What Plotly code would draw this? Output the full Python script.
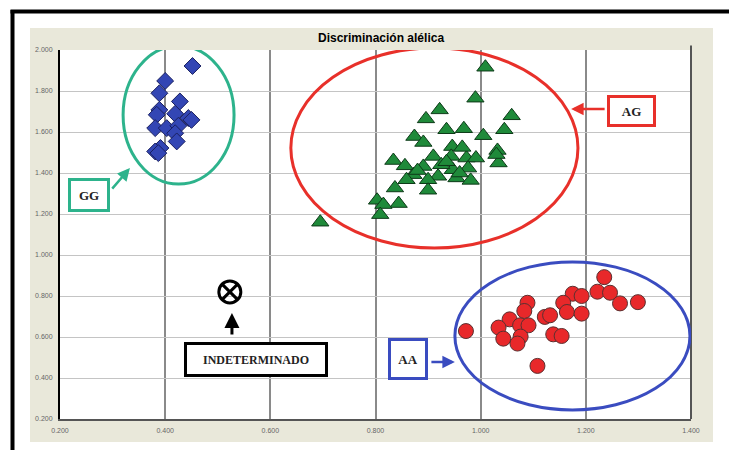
import plotly.graph_objects as go

# ---- data ----
gg_x = [0.452, 0.400, 0.389, 0.428, 0.389, 0.384, 0.419, 0.444, 0.450, 0.381, 0.403, 0.425, 0.419, 0.422, 0.391, 0.381, 0.387]
gg_y = [1.922, 1.849, 1.789, 1.749, 1.708, 1.684, 1.689, 1.668, 1.659, 1.619, 1.619, 1.630, 1.594, 1.554, 1.522, 1.505, 1.497]

ag_x = [1.009, 0.990, 0.922, 0.896, 1.059, 0.935, 0.968, 1.045, 0.874, 0.891, 1.005, 0.946, 1.032, 1.034,
        0.834, 0.856, 0.910, 0.944, 0.973, 0.991, 0.891, 0.872, 0.919, 0.947, 0.976, 0.859, 0.900, 0.954,
        0.981, 0.837, 0.900, 0.803, 0.844, 0.815, 0.809, 0.695, 0.880, 0.925, 0.960, 0.965, 1.030, 0.935]
ag_y = [1.916, 1.765, 1.708, 1.664, 1.679, 1.611, 1.616, 1.611, 1.578, 1.549, 1.582, 1.529, 1.510, 1.449,
        1.461, 1.435, 1.481, 1.481, 1.473, 1.473, 1.432, 1.392, 1.384, 1.416, 1.424, 1.367, 1.367, 1.376,
        1.364, 1.327, 1.316, 1.267, 1.251, 1.246, 1.197, 1.160, 1.412, 1.440, 1.400, 1.525, 1.490, 1.455]

aa_x = [1.235, 1.222, 1.246, 1.175, 1.192, 1.265, 1.299, 1.089, 1.157, 1.083, 1.164, 1.192, 1.122, 1.132,
        1.055, 1.075, 1.091, 1.034, 0.972, 1.138, 1.154, 1.043, 1.076, 1.070, 1.108]
aa_y = [0.892, 0.821, 0.816, 0.811, 0.800, 0.764, 0.770, 0.767, 0.767, 0.727, 0.722, 0.714, 0.698, 0.706,
        0.686, 0.657, 0.657, 0.646, 0.629, 0.613, 0.605, 0.592, 0.602, 0.568, 0.459]

und_x = [0.523]
und_y = [0.820]

x_ticks = [0.2, 0.4, 0.6, 0.8, 1.0, 1.2, 1.4]
y_ticks = [0.2, 0.4, 0.6, 0.8, 1.0, 1.2, 1.4, 1.6, 1.8, 2.0]
title_text = "Discriminación alélica"

# ---- figure ----
L, R, T, B = 60, 38, 50, 31
PW, PH = 729 - L - R, 450 - T - B


def px(xp):
    return (xp - L) / PW


def py(yp):
    return (450 - B - yp) / PH


fig = go.Figure()
fig.add_trace(go.Scatter(x=gg_x, y=gg_y, mode="markers", name="GG",
                         marker=dict(symbol="diamond", size=13, color="#3346b4",
                                     line=dict(color="#1a2060", width=1))))
fig.add_trace(go.Scatter(x=ag_x, y=ag_y, mode="markers", name="AG",
                         marker=dict(symbol="triangle-up", size=15, color="#1f8a3a",
                                     line=dict(color="#0d3a18", width=1))))
fig.add_trace(go.Scatter(x=aa_x, y=aa_y, mode="markers", name="AA",
                         marker=dict(symbol="circle", size=15, color="#e8282a",
                                     line=dict(color="#5a3030", width=1))))
fig.add_trace(go.Scatter(x=und_x, y=und_y, mode="markers", name="Indeterminado",
                         marker=dict(symbol="circle-x-open", size=22, color="black",
                                     line=dict(color="black", width=3))))

shapes = [
    # beige panel
    dict(type="rect", xref="paper", yref="paper", x0=px(30), x1=px(713), y0=py(442), y1=py(28),
         fillcolor="#e9e8da", line=dict(width=0), layer="below"),
    # white plot area
    dict(type="rect", xref="paper", yref="paper", x0=0, x1=1, y0=0, y1=1,
         fillcolor="white", line=dict(width=0), layer="below"),
    # outer black frame (left + top)
    dict(type="line", xref="paper", yref="paper", x0=px(12.5), x1=px(12.5), y0=py(450), y1=py(10),
         line=dict(color="black", width=4)),
    dict(type="line", xref="paper", yref="paper", x0=px(10.5), x1=px(729), y0=py(11.5), y1=py(11.5),
         line=dict(color="black", width=4)),
    # right plot edge
    dict(type="line", xref="paper", yref="paper", x0=1, x1=1, y0=0, y1=1.012,
         line=dict(color="#555555", width=2)),
    # cluster ellipses
    dict(type="circle", xref="x", yref="y", x0=0.320, x1=0.531, y0=1.346, y1=2.020,
         line=dict(color="#2db38c", width=3)),
    dict(type="circle", xref="x", yref="y", x0=0.639, x1=1.185, y0=1.034, y1=2.010,
         line=dict(color="#e8302a", width=3)),
    dict(type="circle", xref="x", yref="y", x0=0.951, x1=1.398, y0=0.244, y1=0.966,
         line=dict(color="#3a4cc0", width=3)),
]
fig.update_layout(shapes=shapes)

serif = "Liberation Serif"
box = dict(xref="paper", yref="paper", showarrow=False, xanchor="center", yanchor="middle",
           bgcolor="white", borderwidth=3)
ann = [
    dict(text="<b>" + title_text + "</b>", xref="paper", yref="paper", x=px(381), y=py(38),
         xanchor="center", yanchor="middle",
         showarrow=False, font=dict(family="Liberation Sans", size=12, color="black")),
    # boxes
    dict(box, text="<b>GG</b>", x=px(89), y=py(195),
         font=dict(family=serif, size=13, color="#222"),
         bordercolor="#2db38c", width=34, height=26),
    dict(box, text="<b>AG</b>", x=px(631), y=py(111),
         font=dict(family=serif, size=13, color="#222"),
         bordercolor="#e8302a", width=41, height=24),
    dict(box, text="<b>AA</b>", x=px(408), y=py(359),
         font=dict(family=serif, size=13, color="#222"),
         bordercolor="#3a4cc0", width=32, height=34),
    dict(box, text="<b>INDETERMINADO</b>", x=px(256), y=py(359),
         font=dict(family=serif, size=12, color="#222"),
         bordercolor="black", width=136, height=27),
    # arrows
    dict(text="", xref="x", yref="y", x=0.333, y=1.424, ax=-19, ay=22, showarrow=True,
         arrowhead=2, arrowsize=1, arrowwidth=2.5, arrowcolor="#2db38c"),
    dict(text="", xref="x", yref="y", x=1.172, y=1.712, ax=35, ay=0, showarrow=True,
         arrowhead=2, arrowsize=1, arrowwidth=2.5, arrowcolor="#e8302a"),
    dict(text="", xref="x", yref="y", x=0.951, y=0.478, ax=-25, ay=0, showarrow=True,
         arrowhead=2, arrowsize=1, arrowwidth=2.5, arrowcolor="#3a4cc0"),
    dict(text="", xref="x", yref="y", x=0.527, y=0.717, ax=0, ay=23, showarrow=True,
         arrowhead=2, arrowsize=1, arrowwidth=3, arrowcolor="black"),
]
fig.update_layout(annotations=ann)

fig.update_layout(
    width=729, height=450,
    margin=dict(l=L, r=R, t=T, b=B, pad=0),
    paper_bgcolor="white", plot_bgcolor="rgba(0,0,0,0)",
    showlegend=False,
    font=dict(family="Liberation Sans", size=7, color="#666"),
)
fig.update_xaxes(range=[0.2, 1.4], tickvals=x_ticks, ticktext=[f"{v:.3f}" for v in x_ticks],
                 showgrid=True, gridcolor="#8a8a8a", gridwidth=1.5, zeroline=False,
                 showline=True, linecolor="#555555", linewidth=2, ticks="", ticklabelstandoff=4)
fig.update_yaxes(range=[0.2, 2.0], tickvals=y_ticks, ticktext=[f"{v:.3f}" for v in y_ticks],
                 showgrid=True, gridcolor="#c4c4c4", gridwidth=1, zeroline=False,
                 showline=True, linecolor="black", linewidth=2, ticks="", ticklabelstandoff=4)

fig.write_html("out.html", config={"displayModeBar": False},
               post_script="document.body.style.margin='0';document.body.style.overflow='hidden';")
